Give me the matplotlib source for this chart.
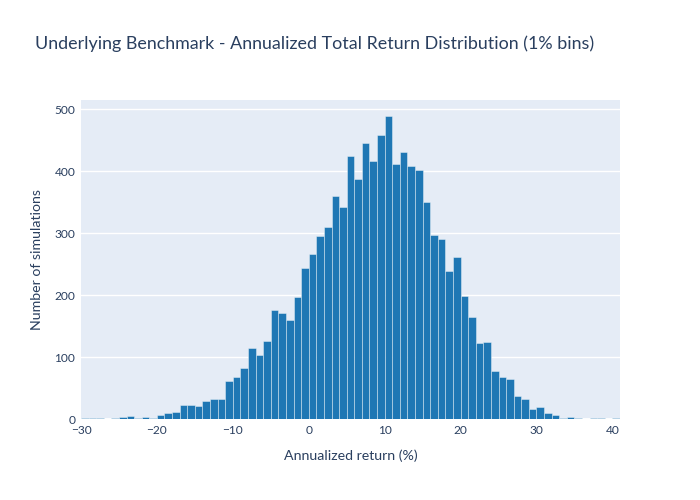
import matplotlib.pyplot as plt

# 1% bins, left edges from -30 to 40
bin_left = list(range(-30, 41))
counts = [2, 1, 1, 0, 1, 3, 5, 2, 3, 1,
          6, 9, 12, 23, 22, 21, 29, 32, 32, 62,
          68, 82, 114, 103, 126, 176, 171, 160, 197, 243,
          267, 296, 309, 360, 342, 424, 387, 445, 417, 459,
          489, 412, 431, 409, 402, 350, 297, 290, 239, 261,
          198, 164, 123, 124, 77, 68, 65, 37, 33, 16,
          19, 9, 6, 2, 3, 1, 0, 1, 1, 0,
          1]
x_ticks = [-30, -20, -10, 0, 10, 20, 30, 40]
y_ticks = [0, 100, 200, 300, 400, 500]

TEXT = '#2a3f5f'
plt.rcParams['font.family'] = ['Lato', 'DejaVu Sans']

fig = plt.figure(figsize=(7, 5), dpi=100)
ax = fig.add_axes([0.1157, 0.162, 0.77, 0.638])
ax.set_facecolor('#e5ecf6')

ax.bar(bin_left, counts, width=1, align='edge', color='#1f77b4',
       edgecolor=(1, 1, 1, 0.45), linewidth=0.6, zorder=3)

ax.set_xlim(-30, 41)
ax.set_ylim(0, 514.7)
ax.set_xticks(x_ticks)
ax.set_yticks(y_ticks)
ax.yaxis.grid(True, color='white', linewidth=1, zorder=0)
ax.axhline(0, color='white', linewidth=2, zorder=2)
for s in ax.spines.values():
    s.set_visible(False)
ax.tick_params(length=0, labelsize=8.6, colors=TEXT, pad=4)

ax.set_xlabel('Annualized return (%)', fontsize=10.2, color=TEXT, labelpad=10)
ax.set_ylabel('Number of simulations', fontsize=10.2, color=TEXT, labelpad=8)
fig.text(0.05, 0.912, 'Underlying Benchmark - Annualized Total Return Distribution (1% bins)',
         fontsize=12.9, color=TEXT, va='center', ha='left')

fig.savefig('out.png', dpi=100)
